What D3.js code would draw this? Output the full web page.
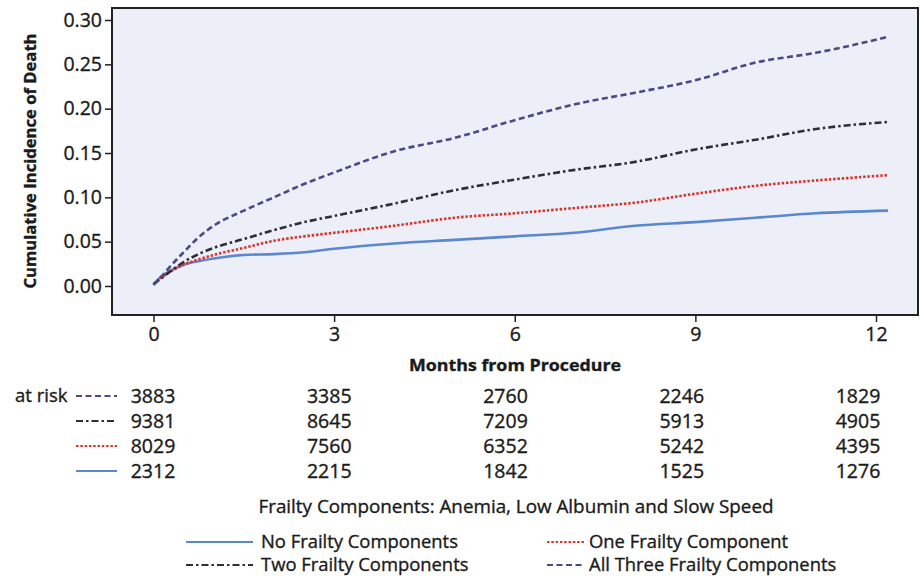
<!DOCTYPE html>
<html>
<head>
  <meta charset="utf-8">
  <title>frailty</title>
  <script src="https://d3js.org/d3.v7.min.js"></script>
  <style>
    body { margin: 0; background: #fff; }
    text { font-family: "Open Sans", "Noto Sans", sans-serif; fill: #1a1a1a; stroke: #1a1a1a; stroke-width: 0.35px; }
  </style>
</head>
<body>
  <svg width="922" height="576" id="mainsvg"></svg>
  <script>
    // months
    const months = [0, 0.1, 0.25, 0.5, 0.75, 1, 1.5, 2, 2.5, 3, 4, 5, 6, 7, 8, 9, 10, 11, 12.2];
    const allThree = [0.002, 0.008, 0.02, 0.038, 0.055, 0.068, 0.085, 0.1, 0.115, 0.128, 0.152, 0.167, 0.187, 0.205, 0.218, 0.232, 0.252, 0.263, 0.281];
    const twoComp = [0.002, 0.007, 0.015, 0.027, 0.036, 0.043, 0.053, 0.063, 0.072, 0.079, 0.093, 0.108, 0.12, 0.131, 0.14, 0.154, 0.165, 0.177, 0.185];
    const oneComp = [0.002, 0.008, 0.015, 0.024, 0.03, 0.035, 0.043, 0.051, 0.056, 0.06, 0.068, 0.077, 0.082, 0.088, 0.094, 0.104, 0.113, 0.119, 0.125];
    const noComp = [0.001, 0.009, 0.016, 0.024, 0.028, 0.031, 0.035, 0.036, 0.038, 0.042, 0.048, 0.052, 0.056, 0.06, 0.068, 0.072, 0.077, 0.082, 0.085];

    const xTicks = [0, 3, 6, 9, 12];
    const yTicks = [0, 0.05, 0.10, 0.15, 0.20, 0.25, 0.30];

    const riskAll = [3883, 3385, 2760, 2246, 1829];
    const riskTwo = [9381, 8645, 7209, 5913, 4905];
    const riskOne = [8029, 7560, 6352, 5242, 4395];
    const riskNo = [2312, 2215, 1842, 1525, 1276];

    const series = [
      { name: "No Frailty Components", vals: noComp, risk: riskNo, color: "#5b87cf", dash: null },
      { name: "One Frailty Component", vals: oneComp, risk: riskOne, color: "#d8352c", dash: "2.5,1.8" },
      { name: "Two Frailty Components", vals: twoComp, risk: riskTwo, color: "#2e2e36", dash: "7,3,2.5,3" },
      { name: "All Three Frailty Components", vals: allThree, risk: riskAll, color: "#4b4888", dash: "6,3.5" }
    ];

    const svg = d3.select('#mainsvg');
    // frame of the plot
    const fL = 112, fR = 918, fT = 8, fB = 315;

    const x = d3.scaleLinear().domain([0, 12]).range([153.5, 876]);
    const y = d3.scaleLinear().domain([0, 0.30]).range([286, 20]);

    svg.append('rect')
      .attr('x', fL).attr('y', fT).attr('width', fR - fL).attr('height', fB - fT)
      .attr('fill', '#eceef8');

    // y axis
    const yAxis = svg.append('g').attr('transform', `translate(${fL},0)`)
      .call(d3.axisLeft(y).tickValues(yTicks).tickFormat(d3.format('.2f')).tickSize(7).tickPadding(3));
    yAxis.select('.domain').remove();
    yAxis.selectAll('line').attr('stroke', '#222').attr('stroke-width', 1.5);
    yAxis.selectAll('text').attr('font-size', 19.5).attr('fill', '#1a1a1a');

    // x axis
    const xAxis = svg.append('g').attr('transform', `translate(0,${fB})`)
      .call(d3.axisBottom(x).tickValues(xTicks).tickSize(7).tickPadding(5));
    xAxis.select('.domain').remove();
    xAxis.selectAll('line').attr('stroke', '#222').attr('stroke-width', 1.5);
    xAxis.selectAll('text').attr('font-size', 19.5).attr('fill', '#1a1a1a');

    svg.append('rect')
      .attr('x', fL).attr('y', fT).attr('width', fR - fL).attr('height', fB - fT)
      .attr('fill', 'none').attr('stroke', '#222').attr('stroke-width', 2);

    const line = d3.line()
      .x((d, i) => x(months[i]))
      .y(d => y(d))
      .curve(d3.curveMonotoneX);

    svg.selectAll('path.curve').data(series).enter().append('path')
      .attr('class', 'curve')
      .attr('d', d => line(d.vals))
      .attr('fill', 'none')
      .attr('stroke', d => d.color)
      .attr('stroke-width', 2.6)
      .attr('stroke-dasharray', d => d.dash);

    // axis titles
    svg.append('text')
      .attr('transform', 'translate(36,161) rotate(-90)')
      .attr('text-anchor', 'middle')
      .attr('font-size', 16).attr('font-weight', 'bold')
      .attr('textLength', 255).attr('lengthAdjust', 'spacingAndGlyphs')
      .text('Cumulative Incidence of Death');

    svg.append('text')
      .attr('x', 515).attr('y', 371)
      .attr('text-anchor', 'middle')
      .attr('font-size', 16.5).attr('font-weight', 'bold')
      .attr('textLength', 212).attr('lengthAdjust', 'spacingAndGlyphs')
      .text('Months from Procedure');

    // numbers at risk
    const riskX = d3.scaleLinear().domain([0, 12]).range([153, 858]);
    const rowY = [396, 421, 446, 471];
    const riskRows = series.slice().reverse();

    svg.append('text').attr('x', 15).attr('y', rowY[0] + 6)
      .attr('font-size', 18.5).text('at risk');

    riskRows.forEach((s, r) => {
      svg.append('line')
        .attr('x1', 76).attr('x2', 117)
        .attr('y1', rowY[r]).attr('y2', rowY[r])
        .attr('stroke', s.color).attr('stroke-width', 2)
        .attr('stroke-dasharray', s.dash);
      svg.selectAll(null).data(s.risk).enter().append('text')
        .attr('x', (d, i) => riskX(xTicks[i]))
        .attr('y', rowY[r] + 7)
        .attr('text-anchor', 'middle')
        .attr('font-size', 19.5)
        .text(d => d);
    });

    // legend
    svg.append('text')
      .attr('x', 516).attr('y', 513)
      .attr('text-anchor', 'middle')
      .attr('font-size', 18.5)
      .attr('textLength', 515).attr('lengthAdjust', 'spacingAndGlyphs')
      .text('Frailty Components: Anemia, Low Albumin and Slow Speed');

    const legPos = [
      { sx1: 186, sx2: 253, tx: 261, y: 542 },
      { sx1: 547, sx2: 585, tx: 589, y: 542 },
      { sx1: 186, sx2: 253, tx: 261, y: 565 },
      { sx1: 547, sx2: 585, tx: 589, y: 565 }
    ];
    series.forEach((s, i) => {
      const p = legPos[i];
      svg.append('line')
        .attr('x1', p.sx1).attr('x2', p.sx2)
        .attr('y1', p.y).attr('y2', p.y)
        .attr('stroke', s.color).attr('stroke-width', 2)
        .attr('stroke-dasharray', s.dash);
      svg.append('text')
        .attr('x', p.tx).attr('y', p.y + 6)
        .attr('font-size', 18.4)
        .text(s.name);
    });
  </script>
</body>
</html>
